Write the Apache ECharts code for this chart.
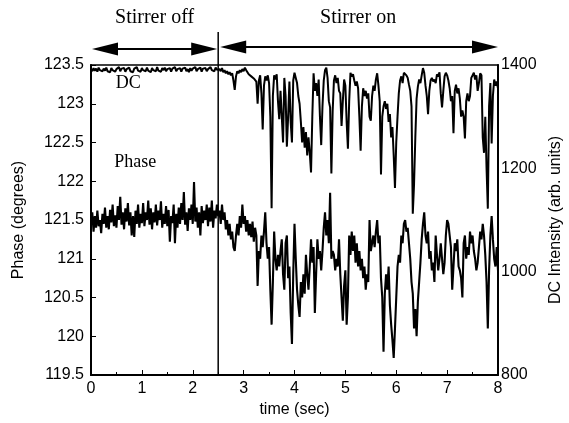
<!DOCTYPE html>
<html><head><meta charset="utf-8">
<script src="https://cdn.jsdelivr.net/npm/echarts@6/dist/echarts.min.js"></script>
<style>html,body{margin:0;padding:0;background:#fff}#c{width:569px;height:423px}</style>
</head><body><div id="c"></div>
<script>
// sampling interval of the recorded traces (s)
const sampleStep = 0.025;

// Phase (degrees), left axis
const phaseValues = [
121.45,121.6,121.35,121.55,121.4,121.62,121.42,121.5,121.33,121.58,
121.45,121.66,121.4,121.55,121.38,121.63,121.47,121.7,121.42,121.56,
121.4,121.68,121.5,121.8,121.44,121.6,121.38,121.65,121.48,121.72,
121.43,121.6,121.3,121.55,121.28,121.62,121.45,121.7,121.4,121.58,
121.46,121.72,121.42,121.6,121.5,121.75,121.44,121.65,121.38,121.6,
121.47,121.7,121.43,121.62,121.5,121.74,121.4,121.58,121.45,121.68,
121.42,121.63,121.22,121.55,121.46,121.7,121.2,121.58,121.4,121.66,
121.45,121.72,121.5,121.86,121.44,121.6,121.36,121.65,121.5,121.7,
121.45,121.99,121.48,121.66,121.4,121.6,121.3,121.68,121.46,121.62,
121.5,121.7,121.42,121.66,121.48,121.75,121.4,121.62,121.52,121.7,
121.55,
121.62,121.45,121.7,121.5,121.6,121.38,121.5,121.3,121.45,121.25,
121.35,121.15,121.1,121.3,121.45,121.3,121.55,121.4,121.7,121.45,
121.55,121.35,121.5,121.3,121.45,121.28,121.48,121.22,121.4,121.3,
120.65,121.1,121.0,121.3,121.15,121.35,121.6,121.2,121.0,121.15,
120.6,120.15,120.7,121.35,121.0,120.85,121.05,120.9,121.1,121.25,
120.8,120.6,121.2,121.3,120.75,120.9,120.3,119.9,120.8,121.45,
121.0,120.6,120.4,120.25,120.7,120.5,120.8,120.55,121.05,120.8,
120.6,120.9,121.25,120.95,121.15,120.3,120.8,121.25,121.0,121.1,
120.85,121.1,121.4,121.6,121.3,121.5,121.2,121.85,121.0,121.1,
121.05,120.85,121.0,120.9,121.25,120.8,120.5,120.2,120.65,120.85,
120.15,120.5,121.3,121.05,121.35,121.1,121.3,120.95,121.2,120.9,
121.1,120.85,121.0,120.75,120.9,120.6,120.8,120.7,121.5,121.1,
121.1,121.3,121.15,121.35,121.5,121.2,121.3,120.75,120.5,119.8,
120.55,120.8,120.6,120.9,120.4,120.15,119.95,119.72,120.1,120.5,
120.9,121.05,120.95,121.3,121.2,121.45,121.5,121.35,121.4,121.2,
121.0,120.7,120.55,120.1,120.35,120.0,120.45,120.7,120.95,121.25,
121.45,121.6,121.3,121.2,121.35,121.0,121.1,120.85,120.95,120.7,
121.3,121.05,120.85,121.0,121.2,121.0,120.8,120.95,121.3,121.5,
121.45,121.3,121.15,120.6,120.9,121.2,121.1,121.25,120.9,120.85,
120.75,120.5,121.2,121.3,121.0,121.15,121.05,121.35,121.2,121.3,
121.1,121.0,120.85,120.95,121.15,121.35,121.25,121.45,121.3,121.05,
120.7,120.1,120.85,121.3,121.55,121.25,121.0,120.9,121.15,120.85
];

// DC intensity (arb. units), right axis
const dcValues = [
1392,1388,1394,1389,1393,1387,1395,1390,1392,1388,
1393,1389,1395,1388,1391,1386,1394,1390,1393,1387,
1392,1389,1396,1388,1393,1390,1394,1387,1392,1389,
1395,1388,1391,1386,1393,1390,1396,1389,1392,1387,
1394,1390,1393,1388,1395,1389,1392,1386,1394,1390,
1393,1388,1396,1389,1392,1387,1394,1390,1395,1388,
1392,1389,1394,1387,1393,1390,1396,1388,1392,1389,
1394,1387,1393,1390,1395,1388,1392,1386,1394,1389,
1393,1390,1396,1388,1392,1389,1395,1387,1393,1390,
1394,1388,1392,1389,1396,1390,1393,1388,1395,1391,
1393,
1392,1388,1394,1386,1390,1384,1388,1382,1386,1380,
1384,1370,1352,1378,1388,1384,1390,1386,1392,1388,
1395,1390,1386,1382,1384,1378,1380,1374,1376,1368,
1325,1370,1380,1345,1275,1360,1378,1370,1380,1365,
1300,1123,1340,1380,1372,1382,1330,1295,1350,1300,
1250,1375,1340,1242,1300,1368,1290,1250,1370,1385,
1375,1365,1340,1325,1290,1250,1280,1240,1270,1225,
1260,1230,1192,1300,1384,1350,1365,1340,1372,1300,
1245,1320,1370,1390,1395,1375,1330,1318,1190,1310,
1370,1380,1365,1375,1350,1345,1282,1330,1372,1360,
1290,1238,1330,1385,1378,1382,1370,1360,1368,1355,
1300,1234,1320,1355,1340,1350,1335,1345,1300,1292,
1340,1360,1350,1372,1384,1360,1330,1188,1300,1320,
1330,1315,1325,1290,1305,1260,1280,1225,1162,1250,
1300,1345,1370,1378,1365,1385,1388,1380,1375,1362,
1350,1320,1112,1170,1260,1335,1358,1372,1365,1380,
1394,1385,1360,1340,1305,1350,1370,1375,1368,1372,
1365,1382,1378,1386,1345,1318,1350,1378,1385,1380,
1370,1355,1330,1340,1268,1350,1362,1345,1355,1335,
1300,1312,1300,1258,1330,1345,1330,1340,1375,1380,
1385,1372,1380,1350,1365,1384,1380,1260,1230,1300,
1200,1122,1320,1365,1248,1340,1372,1360,1368,1355
];

const stirrerOff = [0, 2.5];
const stirrerOn = [2.5, 8];
const switchTime = 2.5;
const dcLabelPos = [0.73, 123.27];
const phaseLabelPos = [0.87, 122.24];

const phaseData = phaseValues.map((v, i) => [+(i * sampleStep).toFixed(3), v]);
const dcData = dcValues.map((v, i) => [+(i * sampleStep).toFixed(3), v]);

const font = 'Liberation Sans, Arial, sans-serif';
const serif = 'Liberation Serif, Times New Roman, serif';

const chart = echarts.init(document.getElementById('c'), null, {renderer: 'canvas'});
chart.setOption({
  animation: false,
  backgroundColor: '#fff',
  grid: {left: 91, right: 71, top: 65, bottom: 48, containLabel: false, outerBoundsMode: 'none',
         show: true, borderColor: '#000', borderWidth: 1.5, backgroundColor: 'transparent'},
  xAxis: {
    type: 'value', min: 0, max: 8, interval: 1,
    name: 'time (sec)', nameLocation: 'middle', nameGap: 27,
    nameTextStyle: {fontFamily: font, fontSize: 16, color: '#000'},
    axisLine: {lineStyle: {color: '#000', width: 2}},
    axisTick: {inside: true, length: 5, lineStyle: {color: '#000'}},
    minorTick: {show: true, splitNumber: 2, length: 3, lineStyle: {color: '#000'}},
    splitLine: {show: false},
    axisLabel: {fontFamily: font, fontSize: 16, color: '#000', margin: 6}
  },
  yAxis: [{
    type: 'value', min: 119.5, max: 123.5, interval: 0.5, position: 'left',
    name: 'Phase (degrees)', nameLocation: 'middle', nameGap: 64, nameRotate: 90,
    nameTextStyle: {fontFamily: font, fontSize: 16, color: '#000'},
    axisLine: {show: true, lineStyle: {color: '#000', width: 2}},
    axisTick: {inside: true, length: 5, lineStyle: {color: '#000'}},
    splitLine: {show: false},
    axisLabel: {fontFamily: font, fontSize: 16, color: '#000', margin: 7}
  }, {
    type: 'value', min: 800, max: 1400, interval: 200, position: 'right',
    name: 'DC Intensity (arb. units)', nameLocation: 'middle', nameGap: 48, nameRotate: 90,
    nameTextStyle: {fontFamily: font, fontSize: 16, color: '#000'},
    axisLine: {show: true, lineStyle: {color: '#000', width: 2}},
    axisTick: {show: false},
    splitLine: {show: false},
    axisLabel: {fontFamily: font, fontSize: 16, color: '#000', margin: 3, formatter: v => String(v)}
  }],
  series: [{
    name: 'Phase', type: 'line', yAxisIndex: 0, data: phaseData,
    showSymbol: false, lineStyle: {color: '#000', width: 2.1}, itemStyle: {color: '#000'}
  }, {
    name: 'DC', type: 'line', yAxisIndex: 1, data: dcData,
    showSymbol: false, lineStyle: {color: '#000', width: 2}, itemStyle: {color: '#000'}
  }]
});

function px(t) { return chart.convertToPixel({xAxisIndex: 0}, t); }
function py(v) { return chart.convertToPixel({yAxisIndex: 0}, v); }

function arrow(xa, xb, y) {
  const L = 26, H = 6.5;
  return [
    {type: 'line', shape: {x1: xa + L - 2, y1: y, x2: xb - L + 2, y2: y}, style: {stroke: '#000', lineWidth: 2}},
    {type: 'polygon', shape: {points: [[xa, y], [xa + L, y - H], [xa + L, y + H]]}, style: {fill: '#000'}},
    {type: 'polygon', shape: {points: [[xb, y], [xb - L, y - H], [xb - L, y + H]]}, style: {fill: '#000'}}
  ];
}

const xs = px(switchTime);
const yBottom = py(119.5);
const graphics = [].concat(
  arrow(px(stirrerOff[0]) + 1, xs - 1, 49),
  arrow(xs + 2, px(stirrerOn[1]), 47),
  [
    {type: 'line', shape: {x1: xs, y1: 32, x2: xs, y2: yBottom}, style: {stroke: '#000', lineWidth: 1.5}},
    {type: 'text', x: (px(stirrerOff[0]) + xs) / 2, y: 18, style: {text: 'Stirrer off', font: '20px ' + serif, fill: '#000', align: 'center', verticalAlign: 'middle'}},
    {type: 'text', x: (xs + px(stirrerOn[1])) / 2, y: 18, style: {text: 'Stirrer on', font: '20px ' + serif, fill: '#000', align: 'center', verticalAlign: 'middle'}},
    {type: 'text', x: px(dcLabelPos[0]), y: py(dcLabelPos[1]), style: {text: 'DC', font: '18px ' + serif, fill: '#000', align: 'center', verticalAlign: 'middle'}},
    {type: 'text', x: px(phaseLabelPos[0]), y: py(phaseLabelPos[1]), style: {text: 'Phase', font: '18px ' + serif, fill: '#000', align: 'center', verticalAlign: 'middle'}}
  ]
);
chart.setOption({graphic: graphics});
</script></body></html>
